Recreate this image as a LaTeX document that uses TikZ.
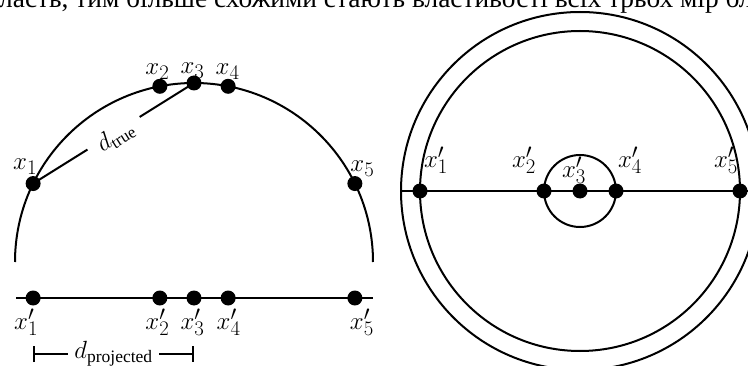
\documentclass[tikz,border=0pt]{standalone}
\usepackage{fontspec}
\setmainfont{Liberation Serif}
\usetikzlibrary{positioning,arrows.meta,calc}

\begin{document}
\begin{tikzpicture}[x=1pt, y=1pt,
  curve/.style={line width=2pt},
  dot/.style={circle, fill=black, inner sep=0pt, minimum size=15pt},
  lbl/.style={inner sep=0pt, font=\fontsize{28}{32}\selectfont},
  dimline/.style={line width=2pt, {Bar[width=16pt]}-{Bar[width=16pt]}},
]
\useasboundingbox (0,0) rectangle (748,365);
\clip (0,0) rectangle (748,365);

% line of text cut off above the figure
\node[anchor=base west, inner sep=0pt, font=\fontsize{27.4}{32}\selectfont] (txt) at (-1,357)
  {ласть, тим більше схожими стають властивості всіх трьох мір близ};

% left: points on the half circle and their projection
\coordinate (o) at (194,103);
\coordinate (bl) at (16,67);
\coordinate (br) at (373,67);
\draw[curve] ($(o)+(-179,0)$) arc[start angle=180, end angle=0, radius=179];
\draw[curve] (bl) -- (br);

\foreach \i/\a in {1/154,2/101,3/90,4/79,5/26}
  \coordinate (p\i) at ($(o)+(\a:179)$);

\draw[curve] (p1) -- node[sloped, fill=white, inner xsep=11pt, inner ysep=1pt, yshift=-4pt,
  font=\fontsize{24}{28}\selectfont] {$d_{\mathrm{true}}$} (p3);

\foreach \i in {1,...,5} {
  \node[dot] (a\i) at (p\i) {};
  \node[dot] (b\i) at (p\i |- bl) {};
}

\foreach \i/\dx/\dy in {1/-8/17, 2/-2.5/15, 3/-1.5/12, 4/-0.5/15, 5/7.5/15}
  \node[lbl] (la\i) at ($(a\i)+(\dx,\dy)$) {$x_\i$};
\foreach \i/\dx in {1/-7, 2/-2.5, 3/-1.5, 4/0.5, 5/7}
  \node[lbl] (lb\i) at ($(b\i)+(\dx,-24)$) {$x'_\i$};

\coordinate (d1) at ($(b1)+(0,-56)$);
\coordinate (d3) at (b3 |- d1);
\draw[dimline] (d1) -- node[fill=white, inner xsep=6pt, inner ysep=1pt,
  font=\fontsize{25}{28}\selectfont] {$d_{\mathrm{projected}}$} (d3);

% right: the same points as seen from the centre
\coordinate (c) at (580,174);
\draw[curve] (c) circle[radius=179];
\draw[curve] (c) circle[radius=160];
\draw[curve] (c) circle[radius=36];
\coordinate (cl) at ($(c)+(-179,0)$);
\coordinate (cr) at ($(c)+(179,0)$);
\draw[curve] (cl) -- (cr);

\foreach \i/\dx in {1/-160, 2/-36, 3/0, 4/36, 5/160}
  \node[dot] (r\i) at ($(c)+(\dx,0)$) {};

\foreach \i/\dx/\dy in {1/16/31, 2/-20/31, 3/-6/21, 4/14/31, 5/-14/31}
  \node[lbl] (lr\i) at ($(r\i)+(\dx,\dy)$) {$x'_\i$};
\end{tikzpicture}
\end{document}
